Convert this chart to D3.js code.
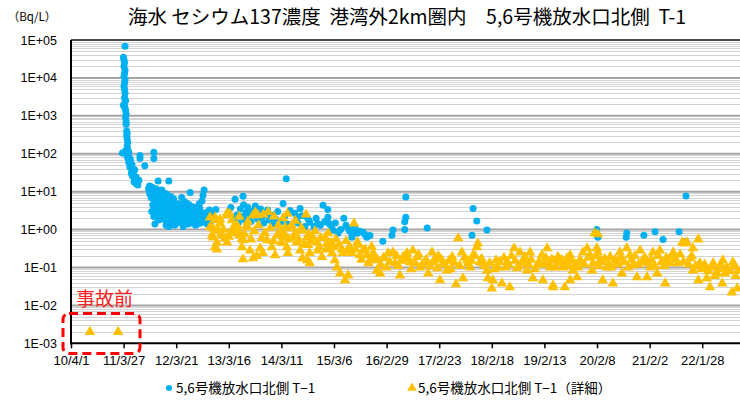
<!DOCTYPE html>
<html><head><meta charset="utf-8">
<script src="https://cdn.jsdelivr.net/npm/d3@7"></script>
<style>
html,body{margin:0;padding:0;background:#fff;}
svg{display:block;}
</style></head>
<body><div id="chart"></div>
<script>
// ---- data (decimal year, Bq/L) ----
const titleText = "海水 セシウム137濃度  港湾外2km圏内　5,6号機放水口北側  T-1";
const unitLabel = "（Bq/L）";
const yTickValues = [1e-3, 1e-2, 1e-1, 1, 10, 100, 1000, 10000, 100000];
const yTickLabels = ["1E-03","1E-02","1E-01","1E+00","1E+01","1E+02","1E+03","1E+04","1E+05"];
const xTickLabels = ["10/4/1","11/3/27","12/3/21","13/3/16","14/3/11","15/3/6","16/2/29","17/2/23","18/2/18","19/2/13","20/2/8","21/2/2","22/1/28"];
const seriesNames = ["5,6号機放水口北側 T−1", "5,6号機放水口北側 T−1（詳細）"];
const preAccidentLabel = "事故前";

const blueSeries = [
 [2011.26,68000],[2011.23,35000],[2011.24,30000],[2011.25,25000],[2011.24,20000],[2011.26,16000],[2011.25,13000],
 [2011.24,11000],[2011.26,9000],[2011.25,7500],[2011.24,6000],[2011.25,5000],[2011.26,4000],[2011.25,3000],
 [2011.27,2500],[2011.24,2000],[2011.23,1900],[2011.25,1800],[2011.26,1600],[2011.27,1400],[2011.28,1100],[2011.27,900],
 [2011.28,700],[2011.28,600],[2011.29,400],[2011.30,350],[2011.29,300],[2011.30,250],[2011.31,200],[2011.30,160],
 [2011.31,130],[2011.29,110],[2011.21,105],[2011.27,120],[2011.29,100],[2011.31,95],[2011.33,110],[2011.30,85],
 [2011.32,75],[2011.34,80],[2011.35,65],[2011.33,60],[2011.36,55],[2011.37,48],[2011.35,45],[2011.38,42],
 [2011.40,40],[2011.39,35],[2011.41,32],[2011.38,30],[2011.42,28],[2011.43,25],[2011.44,22],[2011.40,26],
 [2011.45,20],[2011.43,18],[2011.46,17],[2011.48,16],[2011.50,15],[2011.47,24],[2011.52,20],[2011.44,38],
 [2011.36,70],[2011.39,52],[2011.54,90],[2011.54,75],[2011.63,48],[2011.80,110],[2011.80,75],[2011.88,19],[2012.08,19],
 [2011.70,12],[2011.72,9],[2011.74,11],[2011.75,7],[2011.76,10],[2011.78,8.5],[2011.80,6],[2011.79,12],[2011.82,9.5],
 [2011.83,5],[2011.85,7],[2011.86,4],[2011.87,10],[2011.88,3.5],[2011.90,6],[2011.91,8],[2011.92,2.5],[2011.93,4.5],
 [2011.95,3],[2011.96,7.5],[2011.97,5.5],[2011.98,2],[2012.00,3.8],[2012.01,9],[2012.02,1.8],[2012.03,6],[2012.05,2.8],
 [2012.06,4.2],[2012.07,1.6],[2012.09,3.2],[2012.10,5],[2012.11,2.2],[2012.13,1.5],[2012.14,4],[2012.15,2.6],
 [2012.17,6.5],[2012.18,1.9],[2012.20,3.5],[2012.21,1.4],[2012.23,2.4],[2012.25,4.8],[2012.26,1.7],[2012.28,3],
 [2012.30,2],[2012.32,7],[2012.33,1.5],[2012.35,2.7],[2012.37,5.5],[2012.38,1.8],[2012.40,3.6],[2012.42,2.3],
 [2012.44,1.4],[2012.46,4.5],[2012.48,9.5],[2012.50,2.9],[2012.52,1.6],[2012.54,2.2],[2012.56,3.8],[2012.58,1.3],
 [2012.60,2.5],[2012.62,1.8],[2012.65,4.8],[2012.66,3],[2012.68,1.5],[2012.70,2.1],[2012.74,11],[2012.72,8],
 [2012.70,5.7],[2012.66,3.6],[2012.58,2.8],[2012.74,2.6],[2012.76,1.7],[2012.78,2.8],[2012.80,1.4],[2012.82,2],
 [2012.84,3.3],[2012.87,1.6],[2012.90,2.4],[2012.81,1.97],[2012.96,3.4],[2011.82,1.4],[2011.89,1.8],[2012.03,1.3],
 [2012.08,1.2],[2012.19,1.3],[2012.35,1.2],[2011.72,14],[2011.77,13],[2011.95,11],
 [2011.76,3],[2011.78,4.5],[2011.80,2.2],[2011.81,3.8],[2011.84,2.6],[2011.86,5.5],[2011.89,2.8],[2011.90,4.2],
 [2011.93,1.9],[2011.94,3.3],[2011.97,2.4],[2011.99,6.5],[2012.00,2.6],[2012.02,4.6],[2012.04,1.5],[2012.05,3.6],
 [2012.07,2.4],[2012.08,7],[2012.10,1.8],[2012.12,3],[2012.14,2],[2012.16,4.5],[2012.18,2.8],[2012.20,1.7],
 [2012.22,3.2],[2012.24,2.1],[2012.27,3.9],[2012.29,1.6],[2012.31,2.5],[2012.34,4],[2012.36,1.9],[2012.39,2.6],
 [2012.41,5],[2012.43,1.6],[2012.45,3],[2012.47,2],[2012.49,1.5],[2012.51,4],[2012.53,2.5],[2012.55,1.7],
 [2012.57,3],[2012.59,2],[2012.61,1.4],[2012.63,3.3],[2012.64,2.2],
 [2011.74,13],[2011.84,12],[2011.92,10.5],[2012.04,8.5],[2012.12,7.5],
 [2013.24,3.8],[2013.32,6.3],[2013.47,7.6],[2014.28,22],
 [2013.42,3.5],[2013.45,2.2],[2013.48,4.5],[2013.50,1.8],[2013.53,2.8],[2013.56,3.8],[2013.58,2.3],[2013.62,1.6],
 [2013.65,3.1],[2013.68,2.5],[2013.70,4.2],[2013.74,1.9],[2013.77,2.8],[2013.80,3.5],[2013.83,2.1],[2013.86,1.5],
 [2013.90,2.6],[2013.93,3.3],[2013.96,1.8],[2014.00,2.4],[2014.03,1.4],
 [2014.22,4.9],[2014.35,3.2],[2014.54,3.6],[2014.48,2.1],[2014.67,2.1],[2014.72,1.55],[2014.87,1.45],[2014.97,4.4],
 [2015.06,3.4],[2015.06,2.1],[2015.08,1.45],[2015.16,0.96],[2015.25,0.8],[2015.36,2.0],[2015.44,1.1],[2015.53,0.96],
 [2015.61,0.8],[2015.72,0.85],[2015.79,0.63],[2015.51,0.63],
 [2013.30,1.8],[2013.35,2.4],[2013.38,1.5],[2014.08,1.9],[2014.12,3.0],[2014.18,1.6],[2014.25,2.2],[2014.30,1.4],
 [2014.44,2.7],[2014.50,1.5],[2014.57,2.3],[2014.63,1.2],[2014.70,1.8],[2014.80,1.2],[2014.84,2.0],[2014.92,1.3],
 [2015.00,1.6],[2015.12,1.2],[2015.20,1.5],[2015.30,1.0],[2015.40,1.3],[2015.47,0.9],[2015.57,1.1],[2015.66,0.9],
 [2015.75,0.75],[2015.85,0.7],
 [2016.09,0.49],[2016.26,0.71],[2016.28,0.97],[2016.50,1.0],[2016.50,1.6],[2016.52,2.1],[2016.52,7.2],[2016.92,1.1],
 [2017.76,0.71],[2017.78,3.6],[2017.85,1.67],[2018.04,0.97],[2020.10,1.0],[2020.12,0.63],[2020.66,0.81],[2020.65,0.63],
 [2020.98,0.71],[2021.19,0.88],[2021.34,0.55],[2021.64,0.88],[2021.77,7.7],[2021.77,0.49]
];

const preAccidentSeries = [[2010.60,0.002],[2011.13,0.002]];

const yellowSeries = [
 [2012.945,2.1],[2013.17,2.7],[2013.04,1.45],[2012.85,1.15],[2013.36,1.3],[2013.54,1.3],[2012.89,0.71],[2013.06,0.8],
 [2013.28,0.8],[2013.45,0.59],[2012.98,0.46],[2013.17,0.46],
 [2012.85,2.1],[2012.945,1.76],[2013.04,1.85],[2013.17,2.4],[2013.26,1.76],[2012.91,1.08],[2013.00,0.95],[2013.08,0.71],
 [2012.91,0.62],[2012.945,0.34],[2012.98,0.30],[2013.13,0.59],[2013.23,0.80],[2013.28,1.08],[2013.36,1.15],[2013.41,0.71],
 [2013.54,1.15],[2013.47,0.52],[2013.45,0.34],[2013.60,0.28],[2013.47,0.165],[2013.66,0.175],[2013.73,0.20],[2013.79,0.32],
 [2013.84,0.24],[2013.92,0.52],[2014.01,0.34],[2014.07,0.21],[2014.11,0.71],[2014.16,0.85],[2014.22,0.62],[2013.94,2.9],
 [2013.75,2.4],[2013.66,2.4],[2014.22,2.0],[2014.26,1.15],[2014.35,1.08],[2014.29,0.34],[2014.31,0.24],[2014.41,0.62],
 [2014.48,0.46],[2014.54,0.28],[2014.58,0.175],[2014.59,0.95],[2014.67,0.62],[2014.69,0.39],[2014.72,0.24],[2014.67,0.155],
 [2014.72,0.13],[2014.78,0.62],[2014.86,0.46],[2014.87,0.28],[2014.95,0.19],[2015.01,0.62],[2015.04,0.43],[2015.10,0.34],
 [2015.14,0.24],[2015.19,0.155],[2015.23,0.10],[2015.29,0.07],[2015.38,0.046],[2015.44,0.062],[2015.34,0.24],[2015.42,0.28],
 [2015.51,0.24],[2015.55,1.45],[2015.61,0.46],[2015.66,0.21],[2015.72,0.28],[2015.79,0.21],[2015.85,0.155],[2015.91,0.24],
 [2015.98,0.084],
 [2013.10,1.0],[2013.20,0.65],[2013.30,1.2],[2013.38,0.9],[2013.50,0.75],[2013.56,1.6],[2013.62,0.55],[2013.68,0.9],
 [2013.76,1.3],[2013.82,0.6],[2013.88,0.8],[2013.98,1.1],[2014.04,0.5],[2014.13,1.3],[2014.19,0.45],[2014.25,0.75],
 [2014.33,0.55],[2014.38,1.3],[2014.45,0.8],[2014.51,0.55],[2014.56,1.1],[2014.62,0.4],[2014.70,0.75],[2014.75,0.5],
 [2014.82,0.9],[2014.90,0.35],[2014.93,0.6],[2015.03,0.3],[2015.07,0.8],[2015.12,0.45],[2015.17,0.35],[2015.21,0.55],
 [2015.27,0.4],[2015.32,0.3],[2015.40,0.5],[2015.47,0.35],[2015.58,0.3],[2015.64,0.4],[2015.69,0.16],[2015.76,0.3],
 [2015.82,0.13],[2015.88,0.35],[2015.95,0.18],
 [2013.22,2.6],[2013.40,2.2],[2013.70,2.8],[2013.85,2.5],[2014.05,2.2],[2014.30,2.6],[2014.45,1.7],[2014.65,2.5],
 [2015.91,0.21],[2016.00,0.155],[2016.04,0.07],[2016.13,0.175],[2016.19,0.24],[2016.28,0.25],[2016.32,0.13],[2016.41,0.062],
 [2016.47,0.19],[2016.54,0.24],[2016.60,0.137],[2016.65,0.28],[2016.73,0.19],[2016.79,0.10],[2016.88,0.137],[2016.94,0.07],
 [2017.01,0.25],[2017.07,0.175],[2017.11,0.095],[2017.16,0.046],[2017.22,0.13],[2017.29,0.084],[2017.39,0.19],[2017.46,0.036],
 [2017.50,0.59],[2017.57,0.25],[2017.59,0.052],[2017.67,0.155],[2017.72,0.10],[2017.78,0.21],[2017.85,0.34],[2017.87,0.43],
 [2017.91,0.137],[2017.97,0.13],[2018.04,0.084],[2018.06,0.052],[2018.13,0.028],[2018.15,0.046],[2018.21,0.155],[2018.25,0.10],
 [2018.32,0.038],[2018.42,0.137],[2018.47,0.030],[2018.55,0.32],[2018.60,0.095],[2018.66,0.25],[2018.72,0.155],[2018.79,0.084],
 [2018.85,0.25],[2018.90,0.052],[2018.98,0.114],[2019.07,0.21],[2019.09,0.046],[2019.17,0.32],[2019.22,0.10],[2019.28,0.034],
 [2019.35,0.155],
 [2016.05,0.12],[2016.10,0.18],[2016.16,0.1],[2016.22,0.14],[2016.35,0.2],[2016.38,0.11],[2016.44,0.15],[2016.57,0.17],
 [2016.62,0.09],[2016.70,0.13],[2016.76,0.22],[2016.83,0.12],[2016.90,0.16],[2016.98,0.11],[2017.04,0.14],[2017.13,0.2],
 [2017.19,0.16],[2017.25,0.12],[2017.33,0.15],[2017.36,0.09],[2017.43,0.13],[2017.53,0.11],[2017.62,0.18],[2017.69,0.13],
 [2017.75,0.15],[2017.82,0.2],[2017.94,0.17],[2018.00,0.11],[2018.09,0.13],[2018.18,0.09],[2018.28,0.14],[2018.36,0.18],
 [2018.39,0.1],[2018.45,0.12],[2018.50,0.2],[2018.57,0.15],[2018.63,0.11],[2018.69,0.13],[2018.75,0.19],[2018.82,0.12],
 [2018.87,0.16],[2018.94,0.09],[2019.02,0.14],[2019.12,0.12],[2019.14,0.18],[2019.20,0.13],[2019.25,0.16],[2019.32,0.1],
 [2019.28,0.155],[2019.37,0.19],[2019.47,0.10],[2019.54,0.175],[2019.60,0.21],[2019.65,0.084],[2019.73,0.055],[2019.28,0.030],
 [2019.50,0.030],[2019.60,0.046],[2019.78,0.155],[2019.84,0.25],[2019.92,0.32],[2019.97,0.21],[2020.01,0.084],[2020.10,0.32],
 [2020.12,0.25],[2020.06,0.80],[2020.12,0.75],[2020.16,0.155],[2020.21,0.046],[2020.29,0.10],[2020.35,0.19],[2020.40,0.038],
 [2020.48,0.137],[2020.53,0.25],[2020.57,0.07],[2020.66,0.32],[2020.72,0.21],[2020.78,0.114],[2020.85,0.055],[2020.91,0.28],
 [2020.96,0.155],[2021.04,0.055],[2021.10,0.10],[2021.15,0.25],[2021.23,0.07],[2021.28,0.28],[2021.34,0.137],[2021.38,0.038],
 [2021.43,0.155],[2021.53,0.25],[2021.62,0.13],[2021.70,0.46],[2021.75,0.43],[2021.79,0.46],[2021.90,0.32],[2022.00,0.55],
 [2021.85,0.175],[2021.90,0.084],[2022.00,0.046],[2022.09,0.095],[2022.16,0.052],[2022.22,0.030],[2022.28,0.13],[2022.35,0.07],
 [2022.45,0.038],[2022.46,0.155],[2022.56,0.084],[2022.63,0.022],[2022.65,0.137],[2022.73,0.028],[2022.74,0.084],
 [2019.40,0.13],[2019.44,0.16],[2019.52,0.13],[2019.57,0.11],[2019.63,0.15],[2019.70,0.12],[2019.75,0.1],[2019.81,0.14],
 [2019.87,0.12],[2019.94,0.18],[2020.03,0.13],[2020.08,0.2],[2020.14,0.11],[2020.19,0.14],[2020.25,0.17],[2020.32,0.12],
 [2020.37,0.1],[2020.44,0.16],[2020.50,0.12],[2020.55,0.18],[2020.61,0.14],[2020.69,0.1],[2020.75,0.16],[2020.81,0.2],
 [2020.88,0.12],[2020.94,0.14],[2021.00,0.18],[2021.07,0.13],[2021.12,0.16],[2021.18,0.11],[2021.25,0.2],[2021.31,0.14],
 [2021.36,0.11],[2021.40,0.18],[2021.47,0.13],[2021.50,0.2],[2021.57,0.16],[2021.66,0.22],[2021.72,0.14],[2021.82,0.12],
 [2021.88,0.2],[2021.95,0.11],[2022.03,0.13],[2022.06,0.09],[2022.12,0.12],[2022.19,0.08],[2022.25,0.1],[2022.31,0.06],
 [2022.38,0.09],[2022.42,0.12],[2022.50,0.07],[2022.53,0.1],[2022.60,0.08],[2022.68,0.11],[2022.70,0.06]
];

// ---- helpers ----
function toDate(y){
  const yr = Math.floor(y);
  const s = new Date(yr,0,1), e = new Date(yr+1,0,1);
  return new Date(+s + (y-yr)*(e-s));
}

const W = 740, H = 400;
const svg = d3.select("#chart").append("svg").attr("width", W).attr("height", H)
  .style("font-family", "'Liberation Sans', Arial, sans-serif");

const xStart = new Date(2010,3,1);
const xEnd = new Date(2023,0,1);
const pxPerDay = 52.6/360;
const plotLeft = 71, plotTop = 40, plotBottom = 343.3;
const x = d3.scaleTime().domain([xStart, xEnd])
  .range([plotLeft, plotLeft + d3.timeDay.count(xStart, xEnd)*pxPerDay]);
const y = d3.scaleLog().domain([1e-3, 1e5]).range([plotBottom, plotTop]);
const plotRight = x.range()[1];

// gridlines
const minorVals = [];
for (let e = -3; e < 5; e++) for (let m = 2; m <= 9; m++) minorVals.push(m*Math.pow(10,e));
svg.append("g").selectAll("line").data(minorVals).join("line")
  .attr("x1", plotLeft).attr("x2", plotRight)
  .attr("y1", d=>Math.round(y(d))+0.5).attr("y2", d=>Math.round(y(d))+0.5)
  .attr("stroke", "#d3d3d3").attr("stroke-width", 1);
svg.append("g").selectAll("line").data(yTickValues.slice(1, -1)).join("line")
  .attr("x1", plotLeft).attr("x2", plotRight)
  .attr("y1", d=>y(d)).attr("y2", d=>y(d))
  .attr("stroke", "#a5a5a5").attr("stroke-width", 2);
svg.append("line").attr("x1", plotLeft).attr("x2", plotRight)
  .attr("y1", y(1e5)).attr("y2", y(1e5)).attr("stroke", "#4a4a4a").attr("stroke-width", 2);

// y axis labels
svg.append("g").selectAll("text").data(yTickValues).join("text")
  .attr("x", 57).attr("y", d=>y(d)+4.5).attr("text-anchor","end")
  .attr("font-size", 12.5).attr("fill","#000")
  .text((d,i)=>yTickLabels[i]);

// x axis
const xTicks = xTickLabels.map((_,i)=>d3.timeDay.offset(xStart, i*360));
const xAxis = d3.axisBottom(x).tickValues(xTicks).tickSize(5).tickFormat((d,i)=>xTickLabels[i]);
const gx = svg.append("g").attr("transform", `translate(0,${plotBottom})`).call(xAxis);
gx.select(".domain").remove();
gx.selectAll(".tick line").attr("stroke","#000").attr("stroke-width",1.5);
gx.selectAll(".tick text").attr("font-size", 13).attr("fill","#000").attr("dy", "1.05em")
  .attr("font-family","'Liberation Sans', Arial, sans-serif");

// axis lines
svg.append("line").attr("x1", plotLeft).attr("x2", plotLeft).attr("y1", plotTop).attr("y2", plotBottom+1)
  .attr("stroke","#000").attr("stroke-width",2);
svg.append("line").attr("x1", plotLeft-1).attr("x2", plotRight).attr("y1", plotBottom).attr("y2", plotBottom)
  .attr("stroke","#000").attr("stroke-width",2);

// series
const blue = "#00B0F0", gold = "#FFC000";
svg.append("g").selectAll("circle").data(blueSeries).join("circle")
  .attr("cx", d=>x(toDate(d[0]))).attr("cy", d=>y(d[1])).attr("r", 3.5).attr("fill", blue);
const tri = d3.symbol(d3.symbolTriangle).size(48);
svg.append("g").selectAll("path").data(yellowSeries.concat(preAccidentSeries)).join("path")
  .attr("d", tri).attr("transform", d=>`translate(${x(toDate(d[0]))},${y(d[1])})`).attr("fill", gold);

// pre-accident annotation
svg.append("rect").attr("x", 63).attr("y", 313.5).attr("width", 77).attr("height", 40).attr("rx", 6)
  .attr("fill","none").attr("stroke","#ff0000").attr("stroke-width",3).attr("stroke-dasharray","9 5");
svg.append("text").attr("x", 76).attr("y", 306).attr("font-size", 19)
  .attr("font-family","'Noto Sans CJK JP', sans-serif").attr("fill","#ff2020").text(preAccidentLabel);

// title & unit
svg.append("text").attr("x", 407).attr("y", 24).attr("text-anchor","middle").attr("font-size", 19.5)
  .attr("font-family","'Noto Sans CJK JP', sans-serif").attr("fill","#000")
  .style("white-space","pre").attr("xml:space","preserve").text(titleText);
svg.append("text").attr("x", 32).attr("y", 21).attr("text-anchor","middle").attr("font-size", 11.5)
  .attr("font-family","'Noto Sans CJK JP', sans-serif").attr("fill","#000").text(unitLabel);

// legend
const leg = svg.append("g").attr("font-family","'Noto Sans CJK JP', sans-serif").attr("font-size", 13.5);
leg.append("circle").attr("cx", 169).attr("cy", 388).attr("r", 3).attr("fill", blue);
leg.append("text").attr("x", 176).attr("y", 393).attr("fill","#000").text(seriesNames[0]);
leg.append("path").attr("d", d3.symbol(d3.symbolTriangle).size(40)).attr("transform","translate(412,388)").attr("fill", gold);
leg.append("text").attr("x", 418).attr("y", 393).attr("fill","#000").text(seriesNames[1]);
</script>
</body></html>
